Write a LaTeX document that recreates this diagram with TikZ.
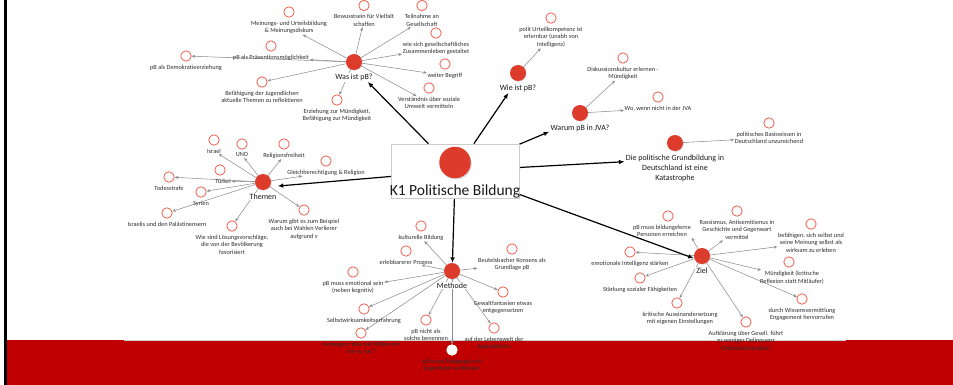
\documentclass[tikz,border=0pt]{standalone}
\usepackage{fontspec}
\setmainfont{Carlito}[Ligatures={NoCommon,NoRequired,NoContextual}]
\usetikzlibrary{arrows.meta,fit,shadows,backgrounds}
\definecolor{hubred}{HTML}{DD3B2B}
\definecolor{leafred}{HTML}{EE6E5E}
\definecolor{arrowgray}{HTML}{8E8E8E}
\definecolor{textgray}{HTML}{2E2E2E}
\definecolor{bandred}{HTML}{C00000}
\newcommand\mmleaf[4][0pt]{%
  \node[leaf] (#2c) at (#3) {};
  \node[lbl, anchor=north, xshift=#1] (#2t) at ([yshift=-2.4pt]#2c.south) {#4};}
\newcommand\mmhub[3]{%
  \node[hub] (#1C) at (#2) {};
  \node[hublbl, anchor=north] (#1L) at ([yshift=-2.6pt]#1C.south) {#3};
  \node[fit=(#1C)(#1L), inner sep=0pt] (#1) {};}
\begin{document}
\begin{tikzpicture}[x=1pt,y=-1pt,
  hub/.style={circle, fill=hubred, minimum size=16pt, inner sep=0pt, outer sep=0pt,
    drop shadow={opacity=0.25, shadow xshift=0.6pt, shadow yshift=-0.8pt}},
  leaf/.style={circle, draw=leafred, fill=white, line width=0.9pt, minimum size=10.4pt, inner sep=0pt},
  lbl/.style={font=\fontsize{6.3}{7.6}\selectfont, align=center, inner sep=0.6pt, text=textgray},
  hublbl/.style={font=\fontsize{8}{10}\selectfont, align=center, inner sep=1pt, text=black!90, fill=white},
  gar/.style={draw=arrowgray, line width=0.55pt, -{Stealth[length=3.6pt,width=3pt]}},
  bar/.style={draw=black, line width=1.2pt, -{Latex[length=5.5pt,width=4.6pt]}},
  mainbox/.style={rectangle, draw=gray!40, fill=white, line width=0.6pt,
    minimum width=127.5pt, minimum height=54pt, inner sep=0pt,
    drop shadow={opacity=0.15, shadow xshift=0.8pt, shadow yshift=-0.8pt}}]
\useasboundingbox (0,0) rectangle (953,385);

% central topic
\node[mainbox] (k1) at (455.25,171) {};
\node[circle, fill=hubred, minimum size=31.5pt, inner sep=0pt,
  drop shadow={opacity=0.3, shadow xshift=1pt, shadow yshift=-1.2pt}] (k1c) at (455,162.5) {};
\node[font=\fontsize{15.5}{18}\selectfont, text=black!90, inner sep=0pt] (k1t) at (455,191) {K1 Politische Bildung};

% hubs
\mmhub{was}{354,62}{Was ist pB?}
\mmhub{wie}{518,73}{Wie ist pB?}
\mmhub{warum}{580,113}{Warum pB in JVA?}
\mmhub{die}{675,143}{Die politische Grundbildung in\\Deutschland ist eine\\Katastrophe}
\mmhub{themen}{263,182}{Themen}
\mmhub{methode}{452,271}{Methode}
\mmhub{ziel}{702,256}{Ziel}

% Was ist pB?
\mmleaf{w1}{289,12}{Meinungs- und Urteilsbildung\\\& Meinungsdiskurs}
\mmleaf{w2}{364,5.5}{Bewusstsein für Vielfalt\\schaffen}
\mmleaf{w3}{422,5.5}{Teilnahme an\\Gesellschaft}
\mmleaf{w4}{436,33}{wie sich gesellschaftliches\\Zusammenleben gestaltet}
\mmleaf{w5}{445,64}{weiter Begriff}
\mmleaf{w6}{429,88}{Verständnis über soziale\\Umwelt vermitteln}
\mmleaf{w7}{337,100}{Erziehung zur Mündigkeit,\\Befähigung zur Mündigkeit}
\mmleaf{w8}{262,82}{Befähigung der Jugendlichen\\aktuelle Themen zu reflektieren}
\mmleaf{w9}{186,56}{pB als Demokratieerziehung}
\mmleaf{w10}{271,46}{pB als Präventionsmöglichkeit}

% Wie ist pB?
\mmleaf{p1}{551,18}{polit Urteilkompetenz ist\\erlernbar (unabh von\\Intelligenz)}

% Warum pB in JVA?
\mmleaf{j1}{623,58}{Diskussionskultur erlernen -\\Mündigkeit}
\mmleaf{j2}{658,97}{Wo, wenn nicht in der JVA}

% Die politische Grundbildung
\mmleaf{d1}{769,123}{politisches Basiswissen in\\Deutschland unzureichend}

% Themen
\mmleaf{t1}{214,140}{Israel}
\mmleaf{t2}{242,144}{UNO}
\mmleaf{t3}{284,144}{Religionsfreiheit}
\mmleaf{t4}{326,161}{Gleichberechtigung \& Religion}
\mmleaf[3pt]{t5}{220,170}{Türkei}
\mmleaf{t6}{169,177}{Todesstrafe}
\mmleaf{t7}{201,192}{Syrien}
\mmleaf{t8}{167,213}{Israelis und den Palästinensern}
\mmleaf{t9}{232,226}{Wie sind Lösungsvorschläge,\\die von der Bevölkerung\\favorisiert}
\mmleaf{t10}{304,210}{Warum gibt es zum Beispiel\\auch bei Wahlen Verlierer\\aufgrund v}

% Methode
\mmleaf{m1}{421,226}{kulturelle Bildung}
\mmleaf{m2}{406,251}{erlebbarerer Prozess}
\mmleaf{m3}{512,249}{Beutelsbacher Konsens als\\Grundlage pB}
\mmleaf{m4}{353,272}{pB muss emotional sein\\(neben kognitiv)}
\mmleaf{m5}{503,292}{Gewaltfantasien etwas\\entgegensetzen}
\mmleaf{m6}{364,309}{Selbstwirksamkeitserfahrung}
\mmleaf{m7}{426,320}{pB nicht als\\solche benennen}
\mmleaf{m8}{494,328}{auf der Lebenswelt der\\Jugendlichen}
\mmleaf{m9}{361,333}{Aufzeigen: Was hat Politik mit\\mir zu tun?}
\node[leaf, draw=white] (m10c) at (452,350) {};
\node[lbl, anchor=north] (m10t) at ([yshift=-2.4pt]m10c.south) {pB muss Pädagogik mit\\kognitivem verbinden};

% Ziel
\mmleaf[-6pt]{z1}{668,216}{pB muss bildungsferne\\Personen erreichen}
\mmleaf{z2}{737,211}{Rassismus, Antisemitismus in\\Geschichte und Gegenwart\\vermittel}
\mmleaf{z3}{811,224}{befähigen, sich selbst und\\seine Meinung selbst als\\wirksam zu erleben}
\mmleaf[3pt]{z4}{789,262}{Mündigkeit (kritische\\Reflexion statt Mitläufer)}
\mmleaf{z5}{802,299}{durch Wissensvermittlung\\Engagement hervorrufen}
\mmleaf{z6}{746,322}{Aufklärung über Gesell. führt\\zu weniger Delinquenz\\(Selbstwirksamkeit)}
\mmleaf[3pt]{z7}{677,303}{kritische Auseinandersetzung\\mit eigenen Einstellungen}
\mmleaf{z8}{640,278}{Stärkung sozialer Fähigkeiten}
\mmleaf{z9}{630,252}{emotionale Intelligenz stärken}

\begin{scope}[on background layer]
  % slide footer band and left rule
  \fill[bandred] (6.5,340) rectangle (953,385);
  \draw[gray!35, line width=0.8pt] (124,340) -- (846,340);
  \fill[black] (4.3,0) rectangle (6.6,385);
  % connectors
  \foreach \t in {w1t,w2t,w3t,w4t,w5t,w6t,w7c,w8c,w9c,w10t}
    \draw[gar] (wasC) -- (\t);
  \draw[gar] (wieC) -- (p1t);
  \foreach \t in {j1t,j2t} \draw[gar] (warumC) -- (\t);
  \draw[gar] (dieC) -- (d1t);
  \foreach \t in {t1t,t2t,t3t,t4t,t5t,t6c,t7c,t8c,t9c,t10c}
    \draw[gar] (themenC) -- (\t);
  \foreach \t in {m1t,m2t,m3t,m4t,m5c,m6c,m7c,m8c,m9c,m10c}
    \draw[gar] (methodeC) -- (\t);
  \draw[gar] (zielC) -- (z1t.south east);
  \foreach \t in {z2t,z3t,z4t,z5c,z6c,z7c,z8c,z9c}
    \draw[gar] (zielC) -- (\t);
  % main connectors
  \foreach \h in {was,wie,warum,die,themen,methode,ziel}
    \draw[bar] (k1) -- (\h);
\end{scope}
\end{tikzpicture}
\end{document}
